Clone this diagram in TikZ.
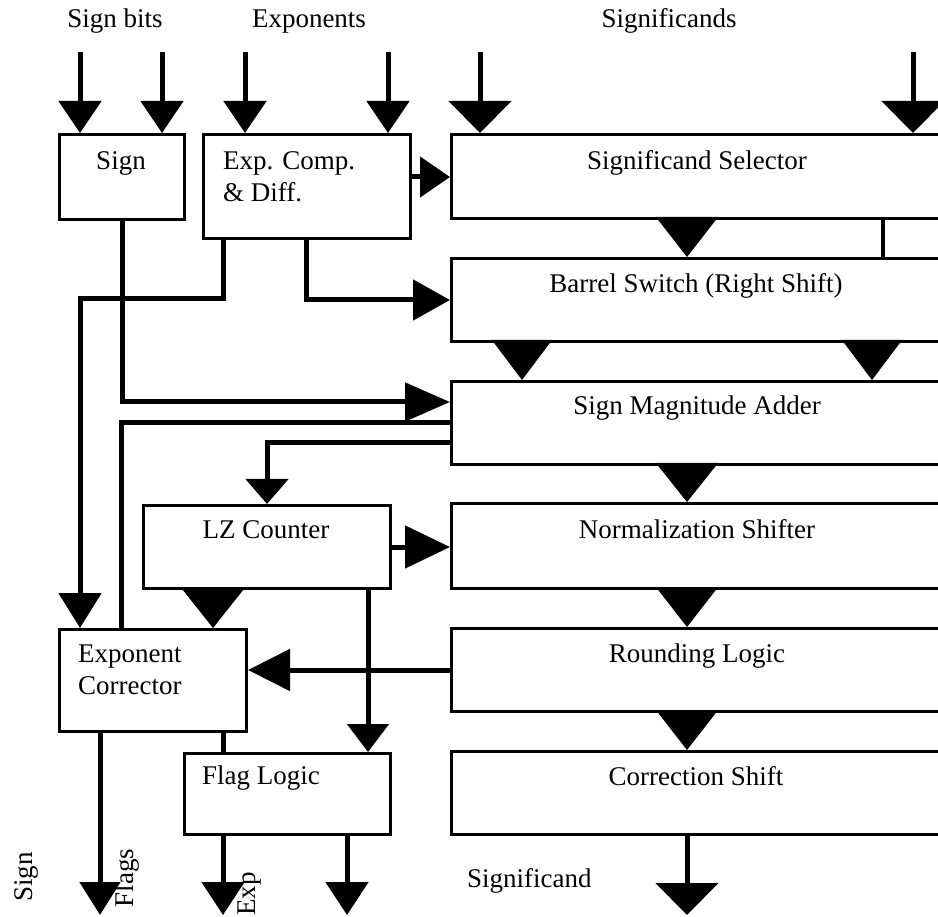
\documentclass[tikz,border=0pt]{standalone}
\usepackage{fontspec}
\setmainfont{Liberation Serif}
\usetikzlibrary{arrows.meta}
\tikzset{
  blk/.style 2 args={draw, line width=3pt, anchor=north west, inner sep=0pt,
    minimum width=#1pt, minimum height=#2pt},
  txt/.style={font=\fontsize{27}{31}\selectfont, inner sep=0pt, anchor=base},
  txtl/.style={txt, anchor=base west},
  wire/.style={line width=5pt},
  tip/.style 2 args={-{Triangle[width=#1pt,length=#2pt]}},
  wedge/.style 2 args={line width=1pt, -{Triangle[width=#1pt,length=#2pt]}},
}
\begin{document}
\begin{tikzpicture}[x=1pt,y=-1pt]
\useasboundingbox (0,0) rectangle (938,917);
\clip (0,0) rectangle (938,917);

% blocks
\node[blk={125}{85}]  (sign)   at (58,133)  {};
\node[blk={207}{104}] (exp)    at (202,133) {};
\node[blk={520}{84}]  (sel)    at (450,133) {};
\node[blk={520}{83}]  (barrel) at (450,257) {};
\node[blk={520}{83}]  (adder)  at (450,380) {};
\node[blk={520}{85}]  (norm)   at (450,502) {};
\node[blk={520}{83}]  (round)  at (450,627) {};
\node[blk={520}{83}]  (corr)   at (450,750) {};
\node[blk={247}{83}]  (lz)     at (142,504) {};
\node[blk={187}{102}] (expc)   at (58,628)  {};
\node[blk={206}{81}]  (flag)   at (183,752) {};

% block captions
\node[txt]  (signT)   at (121,170) {Sign};
\node[txtl] (expT1)   at (223,170) {Exp. Comp.};
\node[txtl] (expT2)   at (223,202) {\& Diff.};
\node[txt]  (selT)    at (697,170) {Significand Selector};
\node[txt]  (barrelT) at (696,293) {Barrel Switch (Right Shift)};
\node[txt]  (adderT)  at (697,415) {Sign Magnitude Adder};
\node[txt]  (normT)   at (697,538) {Normalization Shifter};
\node[txt]  (lzT)     at (266,538) {LZ Counter};
\node[txt]  (roundT)  at (697,662) {Rounding Logic};
\node[txt]  (corrT)   at (696,785) {Correction Shift};
\node[txtl] (expcT1)  at (78,662)  {Exponent};
\node[txtl] (expcT2)  at (78,694)  {Corrector};
\node[txtl] (flagT)   at (202,784) {Flag Logic};

% input and output labels
\node[txt] (inSign) at (115,28) {Sign bits};
\node[txt] (inExp)  at (309,28) {Exponents};
\node[txt] (inSig)  at (669,28) {Significands};
\node[txtl] (outSig) at (467,887) {Significand};
\node[txt, rotate=90] (outSign)  at (32,877)  {Sign};
\node[txt, rotate=90] (outFlags) at (133,878) {Flags};
\node[txt, rotate=90] (outExp)   at (255,894) {Exp};

% free ends of the input and output wires
\coordinate (sb1) at (80,52);
\coordinate (sb2) at (162,52);
\coordinate (ex1) at (245,52);
\coordinate (ex2) at (388,52);
\coordinate (sg1) at (480,52);
\coordinate (sg2) at (913,52);
\coordinate (o1) at (100,915);
\coordinate (o2) at (223,915);
\coordinate (o3) at (347,915);
\coordinate (o4) at (687,915);
\coordinate (j1) at (80,299);

% inputs
\draw[wire, tip={42}{32}] (sb1) -- (sb1 |- sign.north);
\draw[wire, tip={42}{32}] (sb2) -- (sb2 |- sign.north);
\draw[wire, tip={42}{32}] (ex1) -- (ex1 |- exp.north);
\draw[wire, tip={42}{32}] (ex2) -- (ex2 |- exp.north);
\draw[wire, tip={62}{32}] (sg1) -- (sg1 |- sel.north);
\draw[wire, tip={62}{32}] (sg2) -- (sg2 |- sel.north);

% significand datapath
\draw[wire, tip={40}{30}] (exp.east |- 0,177) -- (sel.west |- 0,177);
\draw[wedge={62}{40}] ([xshift=237pt]sel.south west) -- ([xshift=237pt]barrel.north west);
\draw[line width=4pt] ([xshift=433pt]sel.south west) -- ([xshift=433pt]barrel.north west);
\draw[wedge={60}{40}] ([xshift=72pt]barrel.south west) -- ([xshift=72pt]adder.north west);
\draw[wedge={60}{40}] ([xshift=422pt]barrel.south west) -- ([xshift=422pt]adder.north west);
\draw[wedge={62}{39}] ([xshift=237pt]adder.south west) -- ([xshift=237pt]norm.north west);
\draw[wedge={62}{40}] ([xshift=237pt]norm.south west) -- ([xshift=237pt]round.north west);
\draw[wedge={62}{40}] ([xshift=237pt]round.south west) -- ([xshift=237pt]corr.north west);
\draw[wire, tip={62}{32}] ([xshift=237pt]corr.south west) -- (o4);

% sign and exponent paths
\draw[wire, tip={38}{45}] (sign.south) |- (adder.west |- 0,402);
\draw[wire, tip={42}{35}] (exp.south -| 223,0) |- (j1) -- (j1 |- expc.north);
\draw[wire, tip={40}{37}] (exp.south -| 306,0) |- (barrel.west);
\draw[wire] (adder.west |- 0,423) -| (expc.north -| 121,0);
\draw[wire, tip={42}{25}] (adder.west |- 0,443) -| (lz.north);
\draw[wire, tip={42}{45}] (lz.east) -- (lz.east -| norm.west);
\draw[wedge={60}{38}] ([xshift=71pt]lz.south west) -- ([xshift=71pt]lz.south west |- expc.north);
\draw[wire, tip={41}{28}] (lz.south -| 368,0) -- (flag.north -| 368,0);
\draw[wire, tip={41}{42}] (round.west) -- (round.west -| expc.east);

% outputs
\draw[wire, tip={40}{33}] (expc.south -| 100,0) -- (o1);
\draw[wire] (expc.south -| 223,0) -- (flag.north -| 223,0);
\draw[wire, tip={42}{33}] (flag.south -| 223,0) -- (o2);
\draw[wire, tip={42}{33}] (flag.south -| 347,0) -- (o3);
\end{tikzpicture}
\end{document}
